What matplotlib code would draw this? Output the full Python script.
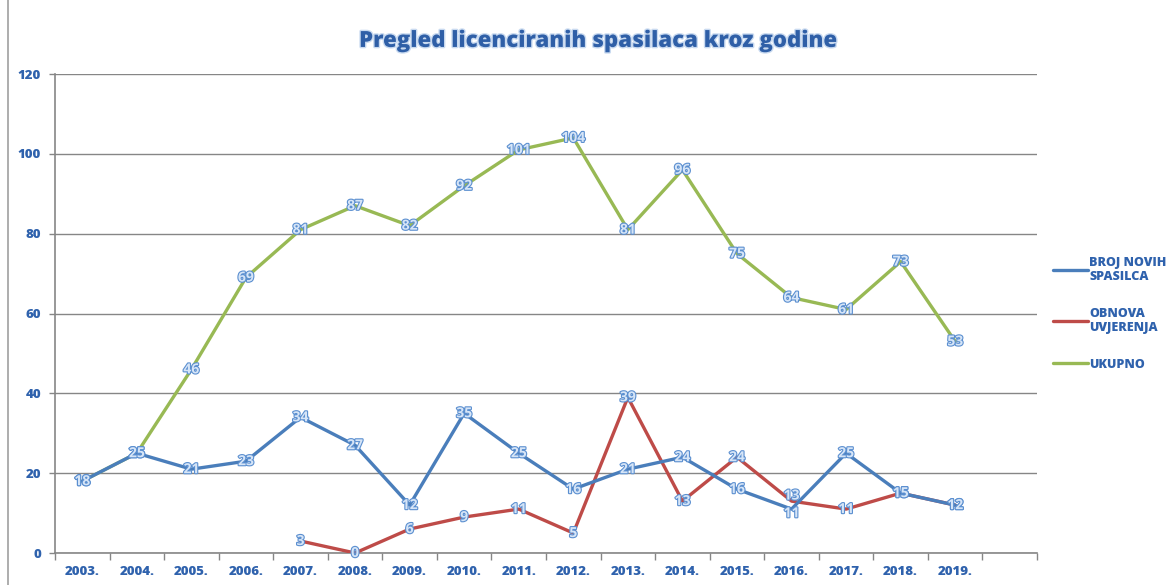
import numpy as np
import matplotlib.pyplot as plt
import matplotlib.patheffects as pe

# data
years = ['2003.', '2004.', '2005.', '2006.', '2007.', '2008.', '2009.', '2010.', '2011.',
         '2012.', '2013.', '2014.', '2015.', '2016.', '2017.', '2018.', '2019.']
novi = [18, 25, 21, 23, 34, 27, 12, 35, 25, 16, 21, 24, 16, 11, 25, 15, 12]
obnova = [None, None, None, None, 3, 0, 6, 9, 11, 5, 39, 13, 24, 13, 11, 15, 12]
ukupno = [18, 25, 46, 69, 81, 87, 82, 92, 101, 104, 81, 96, 75, 64, 61, 73, 53]
series_names = ['BROJ NOVIH\nSPASILCA', 'OBNOVA\nUVJERENJA', 'UKUPNO']

colors = ['#4a7ebb', '#be4b48', '#98b954']
txt_blue = '#2f62ad'
grid_c = '#868686'

plt.rcParams['font.family'] = ['Open Sans', 'DejaVu Sans']

fig = plt.figure(figsize=(11.73, 5.85), dpi=100)
ax = fig.add_axes([0.0469, 0.0547, 0.8372, 0.8188])

x = np.arange(len(years))
lines = []
for k, (vals, c, name) in enumerate([(ukupno, colors[2], series_names[2]),
                                     (obnova, colors[1], series_names[1]),
                                     (novi, colors[0], series_names[0])]):
    xs = [i for i, v in zip(x, vals) if v is not None]
    ys = [v for v in vals if v is not None]
    ln, = ax.plot(xs, ys, color=c, linewidth=2.4, solid_capstyle='round', zorder=3, label=name)
    lines.append(ln)
    for xi, yi in zip(xs, ys):
        # small nudge so the red and blue labels at crossings stay readable
        dy = {1: 4, 2: -3}.get(k, 0) if xi == 13 else 0
        ax.annotate(str(yi), (xi, yi), xytext=(0, dy), textcoords='offset points',
                    ha='center', va='center', fontsize=10, fontweight='bold',
                    color='#d6e5f7', zorder=5,
                    path_effects=[pe.withStroke(linewidth=1.6, foreground='#5b8fd0')])

ax.set_xlim(-0.5, 17.5)
ax.set_ylim(0, 120)
ax.set_yticks(range(0, 121, 20))
ax.yaxis.grid(True, color=grid_c, linewidth=1.0)
ax.set_axisbelow(True)
ax.set_xticks(x)
ax.set_xticklabels(years)
ax.set_xticks(np.arange(-0.5, 18, 1), minor=True)
ax.tick_params(axis='x', which='major', length=0, pad=9)
ax.tick_params(axis='x', which='minor', length=5, color=grid_c, width=1, direction='out')
ax.tick_params(axis='y', length=4, color=grid_c, width=1, pad=6)
for lab in ax.get_xticklabels() + ax.get_yticklabels():
    lab.set_fontweight('heavy')
    lab.set_color(txt_blue)
    lab.set_fontsize(9.5)

for s in ['top', 'right']:
    ax.spines[s].set_visible(False)
for s in ['left', 'bottom']:
    ax.spines[s].set_color(grid_c)
    ax.spines[s].set_linewidth(1.2)

fig.text(0.51, 0.93, 'Pregled licenciranih spasilaca kroz godine', ha='center', va='center',
         fontsize=16, fontweight='heavy', color='#2f5fa7',
         path_effects=[pe.withStroke(linewidth=2, foreground='#c9daf0')])

leg = fig.legend(handles=lines[::-1], loc='upper left', bbox_to_anchor=(0.888, 0.58),
                 frameon=False, handlelength=2.8, handletextpad=0.1, labelspacing=2.0,
                 prop={'weight': 'heavy', 'size': 9})
for t in leg.get_texts():
    t.set_color(txt_blue)

# chart area border on the left
fig.add_artist(plt.Line2D([0.007, 0.007], [0.0, 1.0], color='#a0a0a0', linewidth=1.2))

fig.savefig('out.png', dpi=100)
